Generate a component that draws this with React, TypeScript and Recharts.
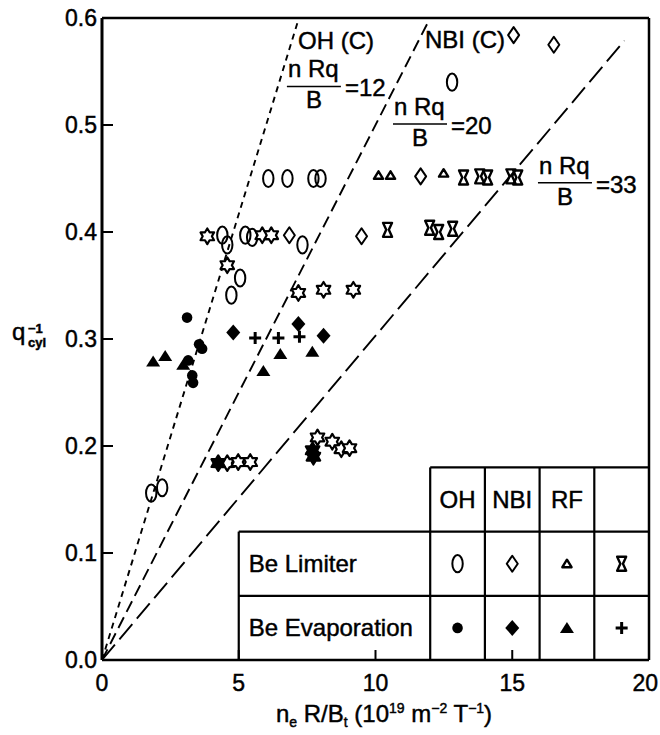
import { ScatterChart, Scatter, XAxis, YAxis, ReferenceLine, ReferenceDot } from 'recharts';

type Pt = { x: number; y: number };

// Be limiter discharges
const ohLimiter: Pt[] = [
  { x: 6.08, y: 0.45 }, { x: 6.78, y: 0.45 }, { x: 7.73, y: 0.45 }, { x: 7.99, y: 0.45 },
  { x: 4.4, y: 0.397 }, { x: 4.58, y: 0.388 }, { x: 5.24, y: 0.397 }, { x: 5.49, y: 0.395 },
  { x: 7.33, y: 0.388 }, { x: 5.05, y: 0.357 }, { x: 4.73, y: 0.341 },
  { x: 12.8, y: 0.54 }, { x: 1.8, y: 0.156 }, { x: 2.2, y: 0.161 },
];
const nbiLimiter: Pt[] = [
  { x: 6.85, y: 0.397 }, { x: 9.49, y: 0.396 }, { x: 11.65, y: 0.452 },
  { x: 15.05, y: 0.584 }, { x: 16.52, y: 0.575 },
];
const rfLimiter: Pt[] = [
  { x: 10.11, y: 0.453 }, { x: 10.55, y: 0.453 }, { x: 12.49, y: 0.455 },
];
const otherLimiter: Pt[] = [
  { x: 13.22, y: 0.451 }, { x: 13.81, y: 0.452 }, { x: 14.1, y: 0.451 }, { x: 14.95, y: 0.452 },
  { x: 15.2, y: 0.451 }, { x: 10.44, y: 0.402 }, { x: 11.98, y: 0.404 }, { x: 12.31, y: 0.4 },
  { x: 12.82, y: 0.403 },
];
const starOpen: Pt[] = [
  { x: 3.85, y: 0.396 }, { x: 5.86, y: 0.397 }, { x: 6.19, y: 0.397 }, { x: 4.58, y: 0.369 },
  { x: 7.18, y: 0.343 }, { x: 8.1, y: 0.346 }, { x: 9.19, y: 0.346 },
  { x: 4.58, y: 0.184 }, { x: 4.98, y: 0.185 }, { x: 5.42, y: 0.185 },
  { x: 7.88, y: 0.208 }, { x: 8.42, y: 0.204 }, { x: 8.75, y: 0.197 }, { x: 9.05, y: 0.198 },
];
const starFilled: Pt[] = [
  { x: 4.25, y: 0.184 }, { x: 7.7, y: 0.196 }, { x: 7.73, y: 0.19 },
];

// Be evaporation discharges
const ohEvap: Pt[] = [
  { x: 3.11, y: 0.32 }, { x: 3.66, y: 0.291 }, { x: 3.55, y: 0.295 },
  { x: 3.15, y: 0.28 }, { x: 3.3, y: 0.266 }, { x: 3.33, y: 0.259 },
];
const nbiEvap: Pt[] = [
  { x: 4.8, y: 0.306 }, { x: 7.18, y: 0.314 }, { x: 8.1, y: 0.303 },
];
const rfEvap: Pt[] = [
  { x: 1.87, y: 0.279 }, { x: 2.31, y: 0.284 }, { x: 2.97, y: 0.276 },
  { x: 5.9, y: 0.27 }, { x: 6.52, y: 0.286 }, { x: 7.69, y: 0.288 },
];
const plusEvap: Pt[] = [
  { x: 5.6, y: 0.301 }, { x: 6.45, y: 0.301 }, { x: 7.22, y: 0.302 },
];

const X_TICKS = [0, 5, 10, 15, 20];
const X_TICK_LABELS = ['0', '5', '10', '15', '20'];
const Y_TICKS = [0, 0.1, 0.2, 0.3, 0.4, 0.5, 0.6];
const Y_TICK_LABELS = ['0.0', '0.1', '0.2', '0.3', '0.4', '0.5', '0.6'];

// n Rq / B = const lines, drawn from the origin out to these x values
const RATIOS = [12, 20, 33];
const RATIO_END_X = [7.15, 11.9, 19.1];
const RATIO_DASH = ['6 5', '12 6', '20 7'];
// where each ratio label's fraction bar starts (data units)
const RATIO_LABEL_AT: Pt[] = [
  { x: 6.76, y: 0.536 }, { x: 10.64, y: 0.501 }, { x: 15.94, y: 0.446 },
];

// inset table
const TABLE_X = [5, 12, 14, 16, 18, 20];
const TABLE_Y = [0, 0.06, 0.12, 0.18];
const TABLE_HEADERS = ['OH', 'NBI', 'RF', ''];
const ROW_LABELS = ['Be Limiter', 'Be Evaporation'];

const INK = '#000';
const FONT = '"Liberation Sans", Arial, Helvetica, sans-serif';

// ---- marker shapes ----
const oval = (cx: number, cy: number) => (
  <ellipse cx={cx} cy={cy} rx={5.2} ry={8.6} fill="none" stroke={INK} strokeWidth={2} />
);
const openDiamond = (cx: number, cy: number) => (
  <polygon
    points={`${cx},${cy - 8} ${cx + 5.5},${cy} ${cx},${cy + 8} ${cx - 5.5},${cy}`}
    fill="none" stroke={INK} strokeWidth={2} strokeLinejoin="round"
  />
);
const smallTriangle = (cx: number, cy: number) => (
  <polygon
    points={`${cx},${cy - 4} ${cx + 4.6},${cy + 3.5} ${cx - 4.6},${cy + 3.5}`}
    fill="none" stroke={INK} strokeWidth={2.4} strokeLinejoin="round"
  />
);
const hourglass = (cx: number, cy: number) => (
  <path
    d={`M${cx - 4.5},${cy - 7} L${cx + 4.5},${cy - 7} L${cx + 1.3},${cy} L${cx + 4.5},${cy + 7} L${cx - 4.5},${cy + 7} L${cx - 1.3},${cy} Z`}
    fill="none" stroke={INK} strokeWidth={2.4} strokeLinejoin="round"
  />
);
const dot = (cx: number, cy: number) => <circle cx={cx} cy={cy} r={5.3} fill={INK} />;
const solidDiamond = (cx: number, cy: number) => (
  <polygon points={`${cx},${cy - 8} ${cx + 7},${cy} ${cx},${cy + 8} ${cx - 7},${cy}`} fill={INK} />
);
const solidTriangle = (cx: number, cy: number) => (
  <polygon points={`${cx},${cy - 6} ${cx + 7},${cy + 5} ${cx - 7},${cy + 5}`} fill={INK} />
);
const plus = (cx: number, cy: number) => (
  <path d={`M${cx - 6},${cy} H${cx + 6} M${cx},${cy - 6} V${cy + 6}`} stroke={INK} strokeWidth={3} />
);
const star = (filled: boolean) => (cx: number, cy: number) => {
  const pts: string[] = [];
  for (let i = 0; i < 12; i++) {
    const r = i % 2 === 0 ? 7.8 : 4.6;
    const a = -Math.PI / 2 + (i * Math.PI) / 6;
    pts.push(`${cx + r * Math.cos(a)},${cy + r * Math.sin(a)}`);
  }
  return (
    <polygon points={pts.join(' ')} fill={filled ? INK : '#fff'} stroke={INK} strokeWidth={2.2} strokeLinejoin="round" />
  );
};

type MarkFn = (cx: number, cy: number) => JSX.Element;
const asShape = (fn: MarkFn) => (p: any) => fn(p.cx, p.cy);

const LEGEND_ROWS: MarkFn[][] = [
  [oval, openDiamond, smallTriangle, hourglass],
  [dot, solidDiamond, solidTriangle, plus],
];

// slightly heavy type, like the printed figure
const textStyle = { fontFamily: FONT, fill: INK, stroke: INK, strokeWidth: 0.45 };

// text placed at a data point, used for annotations and table cells
const textAt = (content: string, anchor: 'start' | 'middle' | 'end', dx: number, dy: number, size = 24) =>
  (p: any) => (
    <text x={p.cx + dx} y={p.cy + dy} textAnchor={anchor} fontSize={size} {...textStyle}>
      {content}
    </text>
  );

const fractionShape = (k: number) => (p: any) => {
  const { cx, cy } = p;
  return (
    <g>
      <line x1={cx} x2={cx + 54} y1={cy} y2={cy} stroke={INK} strokeWidth={1.6} />
      <text x={cx + 1} y={cy - 9} fontSize={24} {...textStyle}>n Rq</text>
      <text x={cx + 27} y={cy + 22} textAnchor="middle" fontSize={24} {...textStyle}>B</text>
      <text x={cx + 58} y={cy + 10} fontSize={24} {...textStyle}>={k}</text>
    </g>
  );
};

function XTick(props: any) {
  const { x, y, payload } = props;
  const v = payload.value;
  const last = v === X_TICKS[X_TICKS.length - 1];
  return (
    <g>
      {v > 0 && !last && <line x1={x} x2={x} y1={y} y2={y - 10} stroke={INK} strokeWidth={2} />}
      <text
        x={last ? x + 9 : x}
        y={y + 31}
        textAnchor={last ? 'end' : 'middle'}
        fontSize={23}
        {...textStyle}
      >
        {X_TICK_LABELS[X_TICKS.indexOf(v)]}
      </text>
    </g>
  );
}

function YTick(props: any) {
  const { x, y, payload } = props;
  const v = payload.value;
  return (
    <g>
      {v > 0 && v < 0.6 && <line x1={x} x2={x + 11} y1={y} y2={y} stroke={INK} strokeWidth={2} />}
      <text x={x - 5} y={y + 8} textAnchor="end" fontSize={23} {...textStyle}>
        {Y_TICK_LABELS[Y_TICKS.indexOf(v)]}
      </text>
    </g>
  );
}

const XTitle = () => (
  <text x={384} y={722} textAnchor="middle" fontSize={24} {...textStyle}>
    <tspan>n</tspan>
    <tspan fontSize={14} dy={5}>e</tspan>
    <tspan dy={-5}> R/B</tspan>
    <tspan fontSize={14} dy={5}>t</tspan>
    <tspan dy={-5}> (10</tspan>
    <tspan fontSize={14} dy={-9}>19</tspan>
    <tspan dy={9}> m</tspan>
    <tspan fontSize={14} dy={-9}>−2</tspan>
    <tspan dy={9}> T</tspan>
    <tspan fontSize={14} dy={-9}>−1</tspan>
    <tspan dy={9}>)</tspan>
  </text>
);

const YTitle = () => (
  <g>
    <text x={12} y={340} fontSize={24} {...textStyle}>q</text>
    <text x={28} y={333} fontSize={13} fontWeight="bold" {...textStyle}>−1</text>
    <text x={28} y={347} fontSize={13} fontWeight="bold" {...textStyle}>cyl</text>
  </g>
);

export default function App() {
  const series: [Pt[], MarkFn][] = [
    [ohLimiter, oval],
    [nbiLimiter, openDiamond],
    [rfLimiter, smallTriangle],
    [otherLimiter, hourglass],
    [starOpen, star(false)],
    [starFilled, star(true)],
    [ohEvap, dot],
    [nbiEvap, solidDiamond],
    [rfEvap, solidTriangle],
    [plusEvap, plus],
  ];

  const top = TABLE_Y[TABLE_Y.length - 1];
  const right = TABLE_X[TABLE_X.length - 1];

  return (
    <div style={{ position: 'absolute', left: 0, top: 0, width: 660, height: 735, background: '#fff' }}>
      <ScatterChart width={660} height={735} margin={{ top: 18, right: 11, bottom: 0, left: 0 }}>
        <XAxis
          type="number"
          dataKey="x"
          domain={[0, 20]}
          ticks={X_TICKS}
          interval={0}
          height={75}
          tickSize={0}
          tickMargin={0}
          axisLine={{ stroke: INK, strokeWidth: 2.5 }}
          tick={(p: any) => <XTick {...p} />}
          label={XTitle}
        />
        <YAxis
          type="number"
          dataKey="y"
          domain={[0, 0.6]}
          ticks={Y_TICKS}
          interval={0}
          width={102}
          tickSize={0}
          tickMargin={0}
          axisLine={{ stroke: INK, strokeWidth: 3 }}
          tick={(p: any) => <YTick {...p} />}
          label={YTitle}
        />

        {/* frame */}
        <ReferenceLine y={0.6} stroke={INK} strokeWidth={2.5} />
        <ReferenceLine x={20} stroke={INK} strokeWidth={2.5} />

        {/* constant n Rq / B lines */}
        {RATIOS.map((k, i) => (
          <ReferenceLine
            key={`ratio-${k}`}
            segment={[{ x: 0, y: 0 }, { x: RATIO_END_X[i], y: RATIO_END_X[i] / k }]}
            stroke={INK}
            strokeWidth={1.9}
            strokeDasharray={RATIO_DASH[i]}
          />
        ))}
        {RATIOS.map((k, i) => (
          <ReferenceDot
            key={`ratio-label-${k}`}
            x={RATIO_LABEL_AT[i].x}
            y={RATIO_LABEL_AT[i].y}
            shape={fractionShape(k)}
          />
        ))}
        <ReferenceDot x={7.17} y={0.571} shape={textAt('OH (C)', 'start', 0, 0)} />
        <ReferenceDot x={11.81} y={0.572} shape={textAt('NBI (C)', 'start', 0, 0)} />

        {/* table grid */}
        <ReferenceLine segment={[{ x: TABLE_X[1], y: top }, { x: right, y: top }]} stroke={INK} strokeWidth={2.2} />
        {[TABLE_Y[1], TABLE_Y[2]].map((y) => (
          <ReferenceLine key={`row-${y}`} segment={[{ x: TABLE_X[0], y }, { x: right, y }]} stroke={INK} strokeWidth={2.2} />
        ))}
        <ReferenceLine segment={[{ x: TABLE_X[0], y: 0 }, { x: TABLE_X[0], y: TABLE_Y[2] }]} stroke={INK} strokeWidth={2.2} />
        {TABLE_X.slice(1, -1).map((x) => (
          <ReferenceLine key={`col-${x}`} segment={[{ x, y: 0 }, { x, y: top }]} stroke={INK} strokeWidth={2.2} />
        ))}

        {/* table text */}
        {TABLE_HEADERS.map((h, i) =>
          h ? (
            <ReferenceDot
              key={`head-${h}`}
              x={(TABLE_X[i + 1] + TABLE_X[i + 2]) / 2}
              y={(TABLE_Y[2] + TABLE_Y[3]) / 2}
              shape={textAt(h, 'middle', 0, 8.5)}
            />
          ) : null
        )}
        {ROW_LABELS.map((label, r) => (
          <ReferenceDot
            key={`rowlabel-${r}`}
            x={TABLE_X[0]}
            y={(TABLE_Y[1 - r] + TABLE_Y[2 - r]) / 2}
            shape={textAt(label, 'start', 10, 8.5)}
          />
        ))}
        {LEGEND_ROWS.map((row, r) =>
          row.map((fn, c) => (
            <ReferenceDot
              key={`legend-${r}-${c}`}
              x={(TABLE_X[c + 1] + TABLE_X[c + 2]) / 2}
              y={(TABLE_Y[1 - r] + TABLE_Y[2 - r]) / 2}
              shape={asShape(fn)}
            />
          ))
        )}

        {series.map(([data, fn], i) => (
          <Scatter key={`s-${i}`} data={data} shape={asShape(fn)} isAnimationActive={false} />
        ))}
      </ScatterChart>
    </div>
  );
}
